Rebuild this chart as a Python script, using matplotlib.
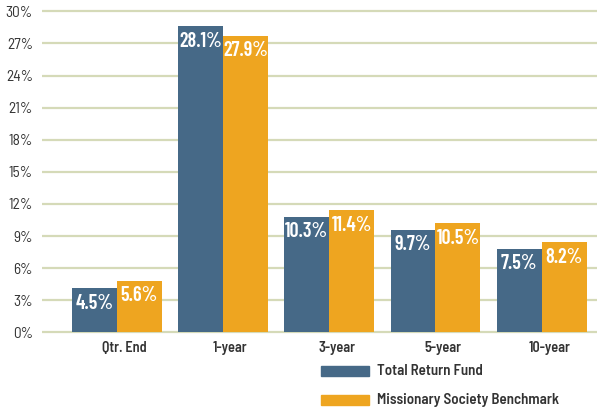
import matplotlib
matplotlib.use("Agg")
import matplotlib.pyplot as plt
import numpy as np
from matplotlib.patches import Rectangle

categories = ["Qtr. End", "1-year", "3-year", "5-year", "10-year"]
fund_values = [4.1, 28.6, 10.8, 9.6, 7.8]
bench_values = [4.8, 27.7, 11.4, 10.2, 8.4]
fund_labels = ["4.5%", "28.1%", "10.3%", "9.7%", "7.5%"]
bench_labels = ["5.6%", "27.9%", "11.4%", "10.5%", "8.2%"]
yticks = [0, 3, 6, 9, 12, 15, 18, 21, 24, 27, 30]
series_names = ["Total Return Fund", "Missionary Society Benchmark"]

BLUE = "#466987"
ORANGE = "#eea520"
GRID = "#d5dab8"
TEXT = "#333333"
SEMI = ["Barlow Semi Condensed", "DejaVu Sans"]
COND = ["Barlow Condensed", "DejaVu Sans"]

W, H = 597, 409
fig = plt.figure(figsize=(W / 100, H / 100), dpi=100)

px_per_unit = 32.1 / 3
y0_px = 332.3
ymin, ymax = -0.2, 30.5
top_px = y0_px - ymax * px_per_unit
bot_px = y0_px - ymin * px_per_unit
left_px, right_px = 42, 597
ax = fig.add_axes([left_px / W, 1 - bot_px / H, (right_px - left_px) / W, (bot_px - top_px) / H])

x = np.arange(len(categories))
bw = 0.423
ax.bar(x - bw / 2, fund_values, bw, color=BLUE, zorder=3)
ax.bar(x + bw / 2, bench_values, bw, color=ORANGE, zorder=3)

for xi, v, lab in zip(x, fund_values, fund_labels):
    ax.annotate(lab, (xi - bw / 2, v), xytext=(0, -15), textcoords="offset pixels",
                ha="center", va="center", color="white", fontsize=14.5, fontweight=600,
                family=COND, zorder=4)
for xi, v, lab in zip(x, bench_values, bench_labels):
    ax.annotate(lab, (xi + bw / 2, v), xytext=(0, -15), textcoords="offset pixels",
                ha="center", va="center", color="white", fontsize=14.5, fontweight=600,
                family=COND, zorder=4)

ax.set_xlim(-0.703, 4.52)
ax.set_ylim(ymin, ymax)
for t in yticks:
    ax.axhline(t, color=GRID, lw=1.6, zorder=1)

ax.set_yticks(yticks)
ax.set_yticklabels([f"{t}%" for t in yticks], family=SEMI, fontsize=11, color=TEXT)
ax.tick_params(axis="y", length=0, pad=6.5)
ax.set_xticks(x + 0.07)
ax.set_xticklabels(categories, family=SEMI, fontsize=10.3, fontweight=600, color=TEXT)
ax.tick_params(axis="x", length=0, pad=4.5)
for s in ax.spines.values():
    s.set_visible(False)

for i, (name, col) in enumerate(zip(series_names, [BLUE, ORANGE])):
    cy = 370.7 + i * 29.3
    fig.add_artist(Rectangle((321 / W, 1 - (cy + 5) / H), 48 / W, 10 / H,
                             transform=fig.transFigure, color=col))
    fig.text(377 / W, 1 - cy / H, name, ha="left", va="center", family=SEMI,
             fontsize=10.8, fontweight=600, color=TEXT)

fig.savefig("out.png", dpi=100)
